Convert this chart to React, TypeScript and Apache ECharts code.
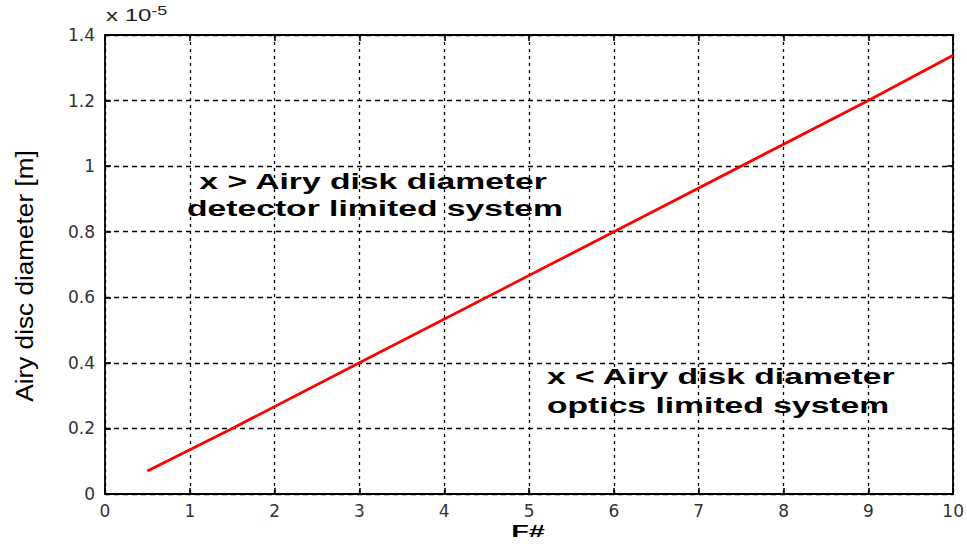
import React, { useEffect, useRef } from "react";
import * as echarts from "echarts";

const fNumbers = [0.5, 1.5, 3, 6, 9, 10];
const airyDiameter = [0.07, 0.2, 0.4, 0.8, 1.2, 1.338];
const annotationTop = [" x > Airy disk diameter", "detector limited system"];
const annotationBottom = ["x < Airy disk diameter", "optics limited system"];
const xTitle = "F#";
const yTitle = "Airy disc diameter [m]";

const FONT = "'Liberation Sans', Arial, sans-serif";
const TICKFONT = "'DejaVu Sans', 'Liberation Sans', sans-serif";

export default function App() {
  const ref = useRef<HTMLDivElement>(null);
  useEffect(() => {
    if (!ref.current) return;
    document.documentElement.style.overflow = "hidden";
    document.body.style.margin = "0";
    const chart = echarts.init(ref.current, null, { renderer: "svg" });
    const axisCommon = {
      type: "value" as const,
      axisLine: { show: true, onZero: false, lineStyle: { color: "#000", width: 1.8 } },
      axisTick: { show: true, inside: true, length: 6, lineStyle: { color: "#000", width: 1.6 } },
    };
    const annText = (text: string, x: number, y: number) => ({
      type: "text",
      x,
      y,
      scaleX: 1.53,
      z: 10,
      style: {
        text,
        fontSize: 22,
        fontFamily: FONT,
        fontWeight: "bold",
        fill: "#000",
        align: "left",
        verticalAlign: "middle",
      },
    });
    chart.setOption({
      animation: false,
      backgroundColor: "#fff",
      grid: { left: 105, right: 11, top: 35, bottom: 56, show: false },
      xAxis: [
        {
          ...axisCommon,
          min: 0,
          max: 10,
          interval: 1,
          position: "bottom",
          axisLabel: { color: "#333", fontSize: 17, fontFamily: TICKFONT, margin: 8 },
          splitLine: { show: true, lineStyle: { color: "#000", type: [3, 4], width: 1.3 } },
        },
        {
          ...axisCommon,
          min: 0,
          max: 10,
          interval: 1,
          position: "top",
          axisLabel: { show: false },
          splitLine: { show: false },
        },
      ],
      yAxis: [
        {
          ...axisCommon,
          min: 0,
          max: 1.4,
          interval: 0.2,
          position: "left",
          axisLabel: {
            color: "#333",
            fontSize: 17,
            fontFamily: TICKFONT,
            margin: 10,
            formatter: (v: number) => (v === 0 ? "0" : String(Math.round(v * 10) / 10)),
          },
          splitLine: { show: true, lineStyle: { color: "#000", type: [5, 4], width: 1.3 } },
        },
        {
          ...axisCommon,
          min: 0,
          max: 1.4,
          interval: 0.2,
          position: "right",
          axisLabel: { show: false },
          splitLine: { show: false },
        },
      ],
      series: [
        {
          type: "line",
          data: fNumbers.map((f, i) => [f, airyDiameter[i]]),
          showSymbol: false,
          lineStyle: { color: "#ff0000", width: 2.8 },
          z: 5,
        },
      ],
      graphic: [
        {
          type: "text",
          x: 106,
          y: 27,
          scaleX: 1.5,
          style: {
            text: "{a|x 10}{b|-5}",
            align: "left",
            verticalAlign: "bottom",
            rich: {
              a: { fontSize: 16, fontFamily: FONT, fill: "#222" },
              b: { fontSize: 12, fontFamily: FONT, fill: "#222", padding: [0, 0, 10, 0] },
            },
          },
        },
        {
          type: "text",
          x: 24,
          y: 276,
          rotation: Math.PI / 2,
          scaleX: 1.09,
          style: {
            text: yTitle,
            fontSize: 24,
            fontFamily: FONT,
            fill: "#000",
            align: "center",
            verticalAlign: "middle",
          },
        },
        {
          type: "text",
          x: 528,
          y: 531,
          scaleX: 1.7,
          z: 10,
          style: {
            text: xTitle,
            fontSize: 17,
            fontFamily: FONT,
            fontWeight: "bold",
            fill: "#000",
            align: "center",
            verticalAlign: "middle",
          },
        },
        annText(annotationTop[0], 190, 181),
        annText(annotationTop[1], 187, 208.5),
        annText(annotationBottom[0], 547, 376),
        annText(annotationBottom[1], 547, 405),
      ],
    });
    return () => chart.dispose();
  }, []);
  return <div ref={ref} style={{ width: 967, height: 550, position: "absolute", left: 0, top: 0 }} />;
}
